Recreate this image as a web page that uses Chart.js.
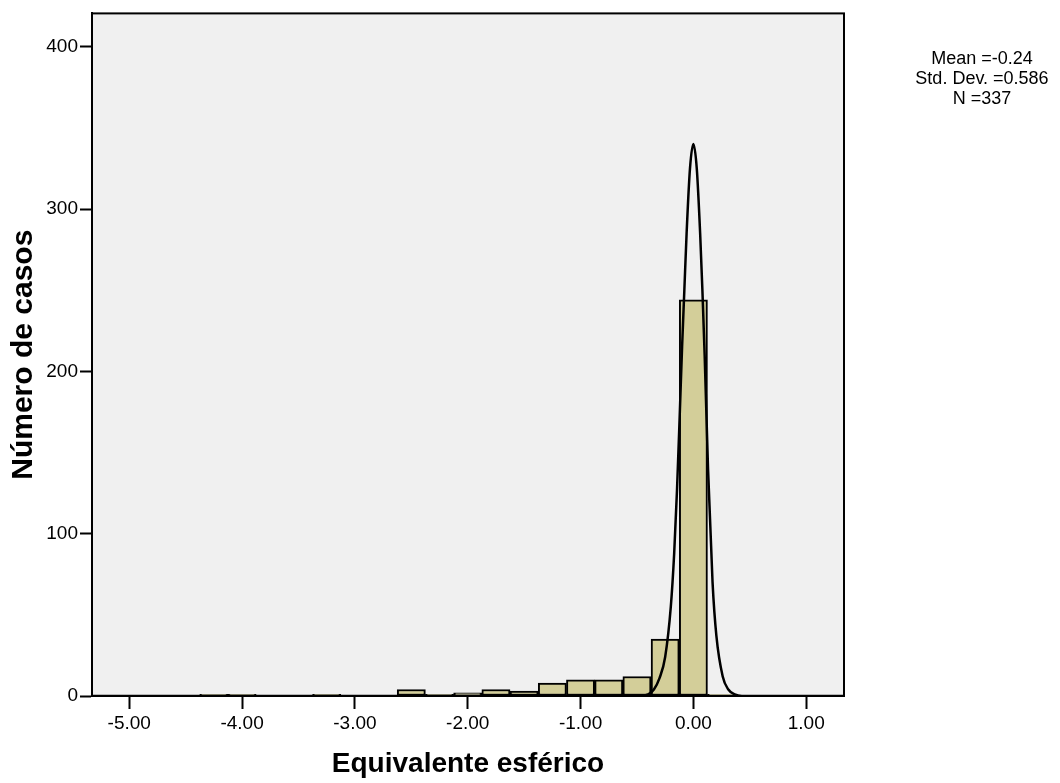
<!DOCTYPE html>
<html>
<head>
<meta charset="utf-8">
<script src="https://cdn.jsdelivr.net/npm/chart.js@4.4.1/dist/chart.umd.min.js"></script>
<style>
  body { margin: 0; background: #fff; }
  #wrap { position: relative; width: 1060px; height: 783px; }
  #stats {
    position: absolute; left: 900px; top: 48px; width: 164px;
    font-family: "Liberation Sans", Arial, sans-serif; font-size: 18px;
    line-height: 20px; text-align: center; color: #000;
  }
</style>
</head>
<body>
<div id="wrap">
  <canvas id="hist"></canvas>
  <div id="stats">Mean =-0.24<br>Std. Dev. =0.586<br>N =337</div>
</div>
<script>
// centros de los intervalos (ancho 0.25) y frecuencias
const binCenters = [-4.25, -4.0, -3.75, -3.5, -3.25, -3.0, -2.75, -2.5, -2.25, -2.0,
                    -1.75, -1.5, -1.25, -1.0, -0.75, -0.5, -0.25, 0.0, 0.25];
const binCounts  = [1, 1, 0, 0, 1, 0, 0, 4, 1, 2,
                    4, 3, 8, 10, 10, 12, 35, 244, 1];

// curva normal
const curveX = [-5.33, -0.47, -0.40, -0.35, -0.30, -0.25, -0.20, -0.17, -0.145, -0.12, -0.10, -0.08, -0.06, -0.03, 0.0,
                0.03, 0.06, 0.08, 0.10, 0.13, 0.17, 0.204, 0.26, 0.31, 0.366, 0.43, 1.335];
const curveY = [0, 0, 1, 4, 11, 24, 55, 88, 127, 175, 215, 250, 285, 325, 340,
                325, 285, 250, 210, 140, 70, 37, 12, 4, 1, 0, 0];

const xTicks = [-5, -4, -3, -2, -1, 0, 1];
const yTicks = [0, 100, 200, 300, 400];

const fontName = '"Liberation Sans", Arial, sans-serif';

const marco = {
    id: 'marco',
    beforeDraw(chart) {
        const a = chart.chartArea, ctx = chart.ctx;
        ctx.save();
        ctx.fillStyle = '#f0f0f0';
        ctx.fillRect(a.left, a.top, a.right - a.left, a.bottom - a.top);
        ctx.restore();
    },
    afterDraw(chart) {
        const a = chart.chartArea, ctx = chart.ctx;
        ctx.save();
        ctx.strokeStyle = '#000';
        ctx.lineWidth = 2;
        ctx.strokeRect(a.left, a.top, a.right - a.left, a.bottom - a.top);
        ctx.restore();
    }
};

const ctx = document.getElementById('hist').getContext('2d');
new Chart(ctx, {
    type: 'bar',
    data: {
        datasets: [{
            type: 'line',
            data: curveX.map((x, i) => ({ x: x, y: curveY[i] })),
            borderColor: '#000',
            borderWidth: 2.5,
            pointRadius: 0,
            cubicInterpolationMode: 'monotone',
            fill: false,
            order: 0
        }, {
            data: binCenters.map((x, i) => ({ x: x, y: binCounts[i] })),
            backgroundColor: 'rgb(211, 206, 153)',
            borderColor: '#000',
            borderWidth: 2,
            borderSkipped: false,
            barPercentage: 1,
            categoryPercentage: 1,
            order: 1
        }]
    },
    options: {
        responsive: true,
        maintainAspectRatio: false,
        animation: false,
        layout: { padding: { top: 10, right: 216, left: 0, bottom: 0 } },
        plugins: { legend: { display: false }, tooltip: { enabled: false } },
        scales: {
            x: {
                type: 'linear',
                offset: false,
                min: -5.33,
                max: 1.335,
                afterBuildTicks: s => { s.ticks = xTicks.map(v => ({ value: v })); },
                afterFit: s => { s.height = 87; },
                ticks: {
                    color: '#000',
                    font: { family: fontName, size: 19 },
                    padding: 3,
                    maxRotation: 0,
                    callback: v => v.toFixed(2)
                },
                grid: { offset: false, drawOnChartArea: false, tickLength: 13, tickWidth: 2, tickColor: '#000' },
                border: { color: '#000', width: 2 },
                title: {
                    display: true,
                    text: 'Equivalente esférico',
                    color: '#000',
                    font: { family: fontName, size: 28, weight: 'bold' },
                    padding: { top: 0, bottom: 2 }
                }
            },
            y: {
                min: 0,
                max: 420.5,
                afterBuildTicks: s => { s.ticks = yTicks.map(v => ({ value: v })); },
                afterFit: s => { s.width = 92; },
                ticks: {
                    color: '#000',
                    font: { family: fontName, size: 19 },
                    padding: 2
                },
                grid: { drawOnChartArea: false, tickLength: 12, tickWidth: 2, tickColor: '#000' },
                border: { color: '#000', width: 2 },
                title: {
                    display: true,
                    text: 'Número de casos',
                    color: '#000',
                    font: { family: fontName, size: 30, weight: 'bold' },
                    padding: { top: 6, bottom: 0 }
                }
            }
        }
    },
    plugins: [marco]
});
</script>
</body>
</html>
